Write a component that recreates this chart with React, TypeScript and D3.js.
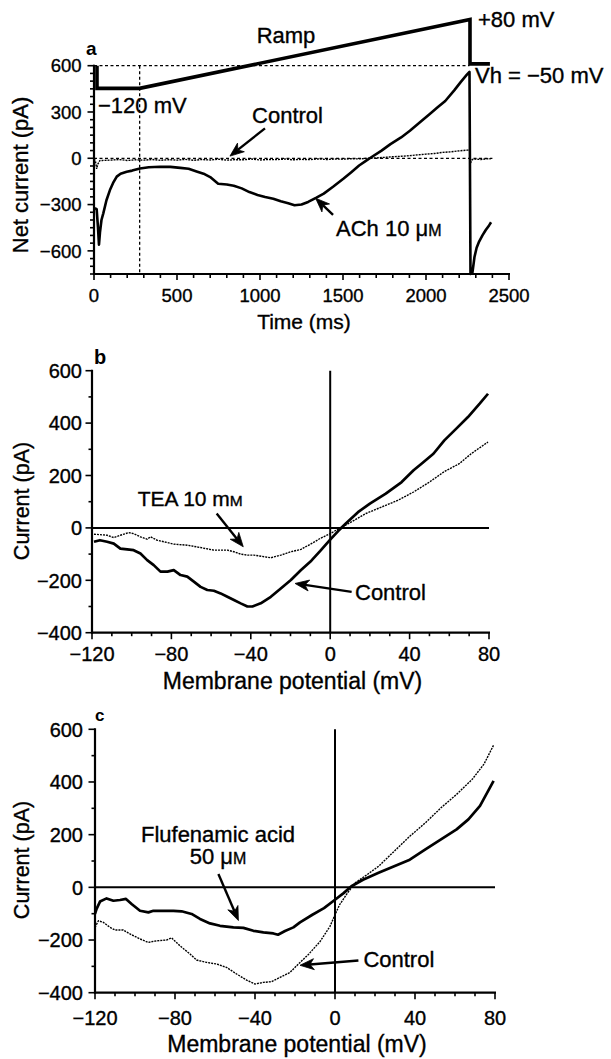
import React from 'react';
import * as d3 from 'd3';

const FONT = "'Liberation Sans', Arial, Helvetica, sans-serif";

// ---------- Panel a : time course ----------
const timeTicks = [0, 500, 1000, 1500, 2000, 2500];
const netTicks = [-600, -300, 0, 300, 600];
const rampTime = [18, 18, 275, 2265, 2265, 2385];
const rampLevel = [600, 453, 453, 900, 612, 612];
const stepMarkTime = 275;
const achTime = [5, 16, 24, 30, 36, 45, 56, 75, 96, 115, 137, 160, 197, 230, 277, 330, 398, 460, 520, 570, 618, 660, 700, 748, 800, 842, 890, 936, 985, 1031, 1080, 1125, 1170, 1208, 1250, 1290, 1340, 1384, 1440, 1502, 1550, 1597, 1640, 1668, 1730, 1786, 1850, 1903, 1960, 2021, 2070, 2116, 2170, 2210, 2245, 2262, 2268, 2280, 2292, 2305, 2320, 2340, 2360, 2380, 2392];
const achCurrent = [-324, -330, -450, -560, -480, -400, -357, -272, -206, -160, -119, -100, -87, -80, -66, -58, -55, -56, -62, -68, -85, -100, -122, -165, -170, -178, -195, -219, -238, -251, -262, -279, -292, -304, -300, -283, -255, -229, -185, -133, -90, -47, -15, 5, 48, 92, 135, 178, 230, 285, 330, 371, 440, 495, 540, 560, -750, -740, -640, -580, -540, -500, -465, -435, -415];
const ctlTime = [0, 8, 16, 24, 35, 50, 100, 150, 200, 250, 300, 350, 400, 450, 500, 550, 600, 650, 700, 750, 800, 850, 900, 950, 1000, 1050, 1100, 1150, 1200, 1250, 1300, 1350, 1400, 1450, 1500, 1550, 1600, 1650, 1700, 1750, 1800, 1850, 1900, 1950, 2000, 2050, 2100, 2150, 2200, 2250, 2262, 2270, 2280, 2300, 2330, 2360, 2390];
const ctlCurrent = [-4, -15, -68, -36, -15, -14, -12, -8, -14, -10, -12, -8, -13, -9, -12, -7, -13, -8, -11, -6, -12, -9, -10, -5, -11, -8, -9, -5, -10, -7, -9, -4, -8, -5, -6, -3, -4, 0, 2, 6, 10, 13, 17, 22, 27, 31, 38, 42, 48, 53, 56, -26, -8, -5, -8, -4, -3];

// ---------- Panels b, c : I-V relations ----------
const vTicks = [-120, -80, -40, 0, 40, 80];
const iTicks = [-400, -200, 0, 200, 400, 600];

const bCtlV = [-119, -116, -112.4, -109, -105.7, -102.3, -99, -95.6, -92.2, -88.9, -85.5, -82, -78.8, -75.4, -72, -68.7, -65.3, -61.9, -58.6, -55.2, -51.8, -48.5, -45.1, -41.7, -39.2, -35, -29.9, -24.9, -19.8, -14.7, -9.5, -5, 0, 4, 8, 14, 20, 28, 36, 42, 46, 52, 57.5, 63.4, 69.4, 75.3, 79.5];
const bCtlI = [-53, -47, -53, -60, -79, -82, -85, -98, -123, -142, -167, -167, -161, -180, -186, -205, -225, -237, -240, -250, -263, -275, -288, -300, -300, -288, -263, -231, -199, -161, -125, -88, -45, -12, 18, 60, 93, 131, 175, 220, 245, 283, 334, 378, 423, 474, 512];
const bTeaV = [-119, -112.4, -109, -105.7, -101.5, -99, -95.6, -92.2, -90.5, -87.2, -82, -78.8, -72, -65.3, -58.6, -51.8, -48.5, -45.1, -41.7, -38.4, -33.3, -29.9, -24.9, -19.8, -14.7, -9.5, -5, 0, 4.3, 10, 18, 26, 34, 42, 50, 57.5, 65, 71, 79.5];
const bTeaI = [-24, -28, -37, -28, -18, -22, -34, -43, -34, -47, -56, -62, -66, -75, -85, -85, -91, -100, -104, -104, -110, -114, -104, -91, -82, -60, -40, -22, -3, 20, 55, 80, 105, 137, 175, 215, 245, 283, 328];

const cFluV = [-120, -119.2, -117.5, -114.2, -110.8, -107.5, -104.5, -101.7, -97.5, -93.3, -90.8, -85.8, -80.8, -76.7, -71.7, -67.5, -62.5, -57.5, -50.8, -45.8, -40.8, -35.8, -30.8, -28.5, -25, -20.8, -17.5, -11.3, -5.5, 0, 4.3, 8.2, 14, 21.8, 29.6, 37.4, 45.2, 53, 60.8, 66.7, 72.5, 79.3];
const cFluI = [-101, -82, -54, -42, -51, -48, -44, -63, -89, -95, -89, -89, -89, -91, -101, -120, -137, -146, -152, -154, -165, -171, -175, -180, -166, -152, -133, -104, -79, -47, -22, 4, 29, 55, 80, 105, 144, 182, 220, 258, 309, 404];
const cCtlV = [-120, -118.3, -115.8, -112.5, -110, -105.8, -102.5, -97.5, -93.3, -89.2, -84.2, -81.7, -77.5, -72.5, -69.2, -64.2, -59.2, -54.2, -49.2, -44.2, -40, -35.8, -31.7, -27.5, -22.5, -18.3, -13.3, -7.4, -2.5, 0, 2.3, 6.2, 10.1, 16, 21.8, 29.6, 37.4, 45.2, 53, 60.8, 68.6, 74.5, 79.3];
const cCtlI = [-152, -127, -133, -152, -162, -162, -177, -196, -209, -203, -200, -192, -222, -253, -276, -285, -291, -304, -329, -352, -367, -361, -358, -342, -323, -291, -255, -205, -148, -104, -66, -22, 17, 48, 80, 137, 194, 245, 302, 353, 410, 468, 540];

// annotation arrows (tail x, tail y, tip x, tip y) in data units
const aCtlArrow = [1030, 194, 819, 14];
const aAchArrow = [1440, -367, 1335, -259];
const bTeaArrow = [-57.2, 55, -43.8, -72];
const bCtlArrow = [10.8, -244, -17.7, -212];
const cFluArrow = [-58.3, 51, -48.3, -126];
const cCtlArrow = [11.7, -278, -17.5, -296];

const zip = (xs: number[], ys: number[]) => xs.map((x, i) => [x, ys[i]] as [number, number]);

function Arrow({ x1, y1, x2, y2 }: { x1: number; y1: number; x2: number; y2: number }) {
  const dx = x2 - x1, dy = y2 - y1;
  const len = Math.hypot(dx, dy);
  const ux = dx / len, uy = dy / len;
  const px = -uy, py = ux;
  const L = 14, W = 5.5, N = 4;
  const bx = x2 - ux * L, by = y2 - uy * L;
  const nx = x2 - ux * (L - N), ny = y2 - uy * (L - N);
  const head = `M${x2},${y2}L${bx + px * W},${by + py * W}L${nx},${ny}L${bx - px * W},${by - py * W}Z`;
  return (
    <g>
      <line x1={x1} y1={y1} x2={nx} y2={ny} stroke="#000" strokeWidth={2.4} />
      <path d={head} fill="#000" stroke="#000" strokeWidth={0.8} strokeLinejoin="miter" />
    </g>
  );
}

const txt = { fontFamily: FONT, fill: '#000', stroke: '#000', strokeWidth: 0.35 } as const;

function PanelA() {
  const x = d3.scaleLinear().domain([0, 2500]).range([94, 509]);
  const y = d3.scaleLinear().domain([-750, 600]).range([274, 65.7]);
  const line = d3.line<[number, number]>().x(d => x(d[0])).y(d => y(d[1]));
  const fmt = d3.format('d');
  const minorY = d3.range(-750, 601, 50);
  const minorX = d3.range(0, 2501, 100);
  const x0 = x(0), yb = y(-750);
  return (
    <g>
      {/* dashed guides */}
      <line x1={x0} x2={x(2262)} y1={y(600)} y2={y(600)} stroke="#000" strokeWidth={1.3} strokeDasharray="3 2.5" />
      <line x1={x0} x2={x(2400)} y1={y(0)} y2={y(0)} stroke="#000" strokeWidth={1.3} strokeDasharray="3 2.5" />
      <line x1={x(stepMarkTime)} x2={x(stepMarkTime)} y1={y(600)} y2={yb} stroke="#000" strokeWidth={1.3} strokeDasharray="3 2.5" />
      {/* traces */}
      <path d={line(zip(rampTime, rampLevel)) || ''} fill="none" stroke="#000" strokeWidth={3.6} strokeLinejoin="miter" />
      <path d={line(zip(ctlTime, ctlCurrent)) || ''} fill="none" stroke="#000" strokeWidth={1.4} strokeDasharray="2 1" />
      <path d={line(zip(achTime, achCurrent)) || ''} fill="none" stroke="#000" strokeWidth={2.6} strokeLinejoin="round" />
      {/* axes */}
      <line x1={x0} x2={x0} y1={y(600) - 1} y2={yb + 1} stroke="#000" strokeWidth={2.2} />
      <line x1={x0 - 1} x2={x(2500) + 1} y1={yb} y2={yb} stroke="#000" strokeWidth={2.2} />
      {minorY.map(v => (
        <line key={'my' + v} x1={x0} x2={x0 - (netTicks.includes(v) ? 6.5 : 4)} y1={y(v)} y2={y(v)} stroke="#000" strokeWidth={1.6} />
      ))}
      {minorX.map(v => (
        <line key={'mx' + v} x1={x(v)} x2={x(v)} y1={yb} y2={yb + (timeTicks.includes(v) ? 6 : 4)} stroke="#000" strokeWidth={1.6} />
      ))}
      {netTicks.map(v => (
        <text key={'yl' + v} x={81.5} y={y(v)} dy="0.36em" textAnchor="end" fontSize={18.5} {...txt}>{fmt(v)}</text>
      ))}
      {timeTicks.map(v => (
        <text key={'xl' + v} x={x(v)} y={yb + 28} textAnchor="middle" fontSize={18.5} {...txt}>{fmt(v)}</text>
      ))}
      <text x={304} y={329} textAnchor="middle" fontSize={21} {...txt}>Time (ms)</text>
      <text transform="translate(28,175) rotate(-90)" textAnchor="middle" fontSize={22} {...txt}>Net current (pA)</text>
      <text x={86} y={55} fontSize={19} fontWeight="bold" fontFamily={FONT}>a</text>
      {/* annotations */}
      <text x={x(980)} y={y(745)} fontSize={22} {...txt}>Ramp</text>
      <text x={x(2313)} y={y(851)} fontSize={22} {...txt}>+80 mV</text>
      <text x={x(2295)} y={y(488)} fontSize={22} {...txt}>Vh = −50 mV</text>
      <text x={x(24)} y={y(293)} fontSize={22} {...txt}>−120 mV</text>
      <text x={x(952)} y={y(229)} fontSize={22} {...txt}>Control</text>
      <text x={x(1458)} y={y(-503)} fontSize={22} {...txt}>ACh 10 μ<tspan fontSize={16}>M</tspan></text>
      <Arrow x1={x(aCtlArrow[0])} y1={y(aCtlArrow[1])} x2={x(aCtlArrow[2])} y2={y(aCtlArrow[3])} />
      <Arrow x1={x(aAchArrow[0])} y1={y(aAchArrow[1])} x2={x(aAchArrow[2])} y2={y(aAchArrow[3])} />
    </g>
  );
}

type IVProps = {
  xr: [number, number];
  yr: [number, number];
  label: string;
  labelPos: [number, number];
  labelSize: number;
  tickOff: number;
  titleOff: number;
  yTitleY: number;
  yLabelX: number;
  thick: [number, number][];
  thin: [number, number][];
  children: (x: d3.ScaleLinear<number, number>, y: d3.ScaleLinear<number, number>) => React.ReactNode;
};

function IVPanel(p: IVProps) {
  const x = d3.scaleLinear().domain([-120, 80]).range(p.xr);
  const y = d3.scaleLinear().domain([-400, 600]).range(p.yr);
  const line = d3.line<[number, number]>().x(d => x(d[0])).y(d => y(d[1]));
  const fmt = d3.format('d');
  const minorY = d3.range(-400, 601, 100);
  const minorX = d3.range(-120, 81, 10);
  const x0 = x(-120), yb = y(-400);
  return (
    <g>
      <line x1={x0} x2={x(80)} y1={y(0)} y2={y(0)} stroke="#000" strokeWidth={2} />
      <line x1={x(0)} x2={x(0)} y1={y(600)} y2={yb} stroke="#000" strokeWidth={2} />
      <path d={line(p.thin) || ''} fill="none" stroke="#000" strokeWidth={1.4} strokeDasharray="2 1" />
      <path d={line(p.thick) || ''} fill="none" stroke="#000" strokeWidth={2.7} strokeLinejoin="round" />
      <line x1={x0} x2={x0} y1={y(600) - 1} y2={yb + 1} stroke="#000" strokeWidth={2.2} />
      <line x1={x0 - 1} x2={x(80) + 1} y1={yb} y2={yb} stroke="#000" strokeWidth={2.2} />
      {minorY.map(v => (
        <line key={'my' + v} x1={x0} x2={x0 - (iTicks.includes(v) ? 6.5 : 3.5)} y1={y(v)} y2={y(v)} stroke="#000" strokeWidth={1.6} />
      ))}
      {minorX.map(v => (
        <line key={'mx' + v} x1={x(v)} x2={x(v)} y1={yb} y2={yb + (vTicks.includes(v) ? 6.5 : 3.5)} stroke="#000" strokeWidth={1.6} />
      ))}
      {iTicks.map(v => (
        <text key={'yl' + v} x={p.yLabelX} y={y(v)} dy="0.36em" textAnchor="end" fontSize={20} {...txt}>{fmt(v)}</text>
      ))}
      {vTicks.map(v => (
        <text key={'xl' + v} x={x(v)} y={yb + p.tickOff} textAnchor="middle" fontSize={20} {...txt}>{fmt(v)}</text>
      ))}
      <text x={(x0 + x(80)) / 2 + 2} y={yb + p.titleOff} textAnchor="middle" fontSize={23} {...txt}>Membrane potential (mV)</text>
      <text transform={`translate(29,${p.yTitleY}) rotate(-90)`} textAnchor="middle" fontSize={21.5} {...txt}>Current (pA)</text>
      <text x={p.labelPos[0]} y={p.labelPos[1]} fontSize={p.labelSize} fontWeight="bold" fontFamily={FONT}>{p.label}</text>
      {p.children(x, y)}
    </g>
  );
}

export default function App() {
  return (
    <svg width={611} height={1059} viewBox="0 0 611 1059" style={{ position: 'absolute', left: 0, top: 0, display: 'block', background: '#fff' }}>
      <rect width={611} height={1059} fill="#fff" />
      <PanelA />
      <IVPanel xr={[92, 489]} yr={[632.7, 370.7]} label="b" labelPos={[94, 364]} labelSize={20} tickOff={28} titleOff={56} yTitleY={501} yLabelX={82}
        thick={zip(bCtlV, bCtlI)} thin={zip(bTeaV, bTeaI)}>
        {(x, y) => (
          <g>
            <text x={x(-97)} y={y(83)} fontSize={21} {...txt}>TEA 10 m<tspan fontSize={15.5}>M</tspan></text>
            <text x={x(12.5)} y={y(-276)} fontSize={22} {...txt}>Control</text>
            <Arrow x1={x(bTeaArrow[0])} y1={y(bTeaArrow[1])} x2={x(bTeaArrow[2])} y2={y(bTeaArrow[3])} />
            <Arrow x1={x(bCtlArrow[0])} y1={y(bCtlArrow[1])} x2={x(bCtlArrow[2])} y2={y(bCtlArrow[3])} />
          </g>
        )}
      </IVPanel>
      <IVPanel xr={[95, 495]} yr={[992.7, 729.3]} label="c" labelPos={[95, 721]} labelSize={17} tickOff={32} titleOff={59} yTitleY={860} yLabelX={83}
        thick={zip(cFluV, cFluI)} thin={zip(cCtlV, cCtlI)}>
        {(x, y) => (
          <g>
            <text x={x(-58.5)} y={y(173)} textAnchor="middle" fontSize={22} {...txt}>Flufenamic acid</text>
            <text x={x(-58.5)} y={y(87)} textAnchor="middle" fontSize={22} {...txt}>50 μ<tspan fontSize={16}>M</tspan></text>
            <text x={x(14.2)} y={y(-301)} fontSize={22} {...txt}>Control</text>
            <Arrow x1={x(cFluArrow[0])} y1={y(cFluArrow[1])} x2={x(cFluArrow[2])} y2={y(cFluArrow[3])} />
            <Arrow x1={x(cCtlArrow[0])} y1={y(cCtlArrow[1])} x2={x(cCtlArrow[2])} y2={y(cCtlArrow[3])} />
          </g>
        )}
      </IVPanel>
    </svg>
  );
}
